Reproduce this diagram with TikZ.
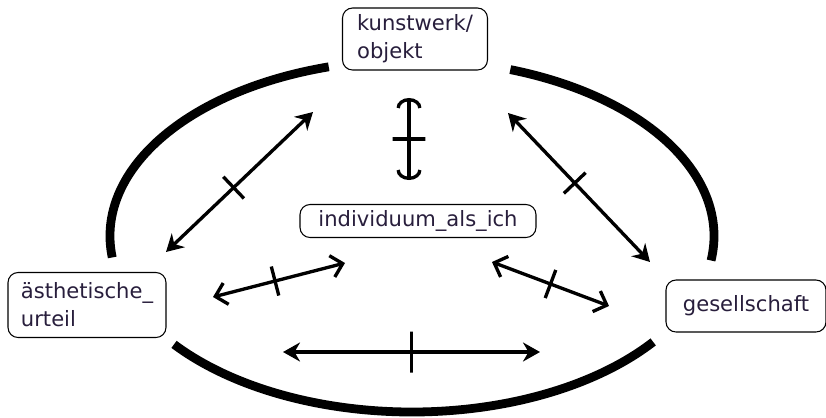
\documentclass[tikz,border=0pt]{standalone}
\usepackage{fontspec}
\setmainfont{DejaVu Sans}
\usepackage{tikz}
\usetikzlibrary{arrows.meta}
\definecolor{boxText}{RGB}{40,30,60}

\begin{document}
\begin{tikzpicture}[x=0.02cm, y=-0.02cm, font=\fontsize{12}{16}\selectfont,
	box/.style={draw, rounded corners=0.2cm, line width=0.6pt, align=left, inner sep=0pt, text=boxText},
	ring/.style={line width=5pt},
	fatlink/.style={line width=1.9pt, arrows={Stealth[length=0.34cm, width=0.38cm]-Stealth[length=0.34cm, width=0.38cm]}},
	barblink/.style={line width=1.9pt, arrows={Straight Barb[length=0.22cm, width=0.44cm]-Straight Barb[length=0.22cm, width=0.44cm]}},
	hooklink/.style={line width=1.9pt, arrows={Arc Barb[length=0.2cm, width=0.5cm]-Arc Barb[length=0.2cm, width=0.5cm]}},
	tickmark/.style={sloped, draw, line width=1.9pt, minimum width=0pt, minimum height=#1, inner sep=0pt},
	tickmark/.default=0.6cm]
	\useasboundingbox (0,0) rectangle (826,417);
	
	% Ring
	\coordinate (ctr) at (412,236);
	\draw[ring] (ctr) ++(254:302 and 176) arc[start angle=254, end angle=173, x radius=302, y radius=176];
	\draw[ring] (ctr) ++(-71:302 and 176) arc[start angle=-71, end angle=8, x radius=302, y radius=176];
	\draw[ring] (ctr) ++(142:302 and 176) arc[start angle=142, end angle=37, x radius=302, y radius=176];
	
	% Nodes
	\node[box, minimum width=2.9cm, minimum height=1.24cm] (kunst) at (415,39) {kunstwerk/\\objekt};
	\node[box, minimum width=4.72cm, minimum height=0.66cm] (indiv) at (418,221) {individuum\_als\_ich};
	\node[box, minimum width=3.16cm, minimum height=1.3cm] (aesth) at (87,305) {ästhetische\_\\urteil};
	\node[box, minimum width=3.2cm, minimum height=1.04cm] (gesell) at (746,306) {gesellschaft};
	
	% Arrow ends
	\coordinate (ka1) at (313,112);
	\coordinate (ka2) at (166,252);
	\coordinate (ki1) at (409,98);
	\coordinate (ki2) at (409,180);
	\coordinate (kg1) at (508,113);
	\coordinate (kg2) at (650,262);
	\coordinate (ai1) at (213,297);
	\coordinate (ai2) at (345,263);
	\coordinate (ig1) at (492,262);
	\coordinate (ig2) at (609,306);
	\coordinate (ag1) at (283,352);
	\coordinate (ag2) at (540,352);
	
	% Connections
	\draw[fatlink] (ka2) -- node[tickmark, pos=0.46]{} (ka1);
	\draw[hooklink] (ki1) -- node[tickmark=0.66cm]{} (ki2);
	\draw[fatlink] (kg1) -- node[tickmark, pos=0.47]{} (kg2);
	\draw[barblink] (ai1) -- node[tickmark, pos=0.47]{} (ai2);
	\draw[barblink] (ig1) -- node[tickmark]{} (ig2);
	\draw[fatlink] (ag1) -- node[tickmark=0.82cm]{} (ag2);
\end{tikzpicture}
\end{document}
